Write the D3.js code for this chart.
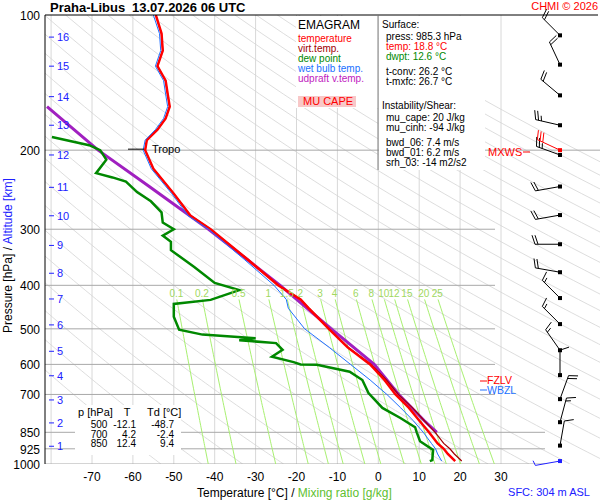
<!DOCTYPE html>
<html><head><meta charset="utf-8">
<script src="https://cdn.jsdelivr.net/npm/d3@7"></script>
<style>body{margin:0;background:#fff}text{font-family:"Liberation Sans",Arial,sans-serif}</style>
</head><body><svg id="c" width="600" height="500"></svg>
<script>
// temperature profile
var tP  = [985,950,925,900,850,800,750,700,650,600,550,500,450,430,400,350,300,280,250,220,200,190,180,170,160,150,140,130,120,110,100];
var tT  = [18.8,17,16,14.5,12.4,10,7.5,4.2,1.5,-2,-7.5,-12.1,-17,-19,-24.5,-32,-41,-45.9,-50,-55,-57,-56.6,-54,-52,-51,-51.5,-52,-54,-52.7,-53,-54.4];
var tVirt = [20.4,18.6,17.5,16,13.9,11.2,8.4,4.9,2,-1.7,-7.3,-12,-16.9,-18.9,-24.4,-32,-41,-45.9,-50,-55,-57,-56.6,-54,-52,-51,-51.5,-52,-54,-52.7,-53,-54.4];
var tWet = [15.5,14.5,14,13,11,8.5,5.5,2.1,-2,-6.8,-12,-18,-22,-22.5,-25.5,-32.8,-41.5,-46.5,-50.5,-55.5,-57.5,-57,-54.5,-52.5,-51.5,-52,-52.5,-54.5,-53.2,-53.5,-55];
// dew point
var dP  = [985,980,930,890,850,828,790,750,695,650,623,601,600,593,577,557,538,530,525,515,502,470,440,431,410,395,364,334,320,310,300,290,275,260,248,235,230,225,210,200,195,187];
var dT  = [12.6,13.2,13.4,10.2,9.4,9,5.4,1,-2.4,-3.9,-7,-15,-19,-20.7,-26,-23.4,-25,-34,-30,-43,-48.7,-50,-50,-41,-34,-40,-45,-50.7,-50.7,-52.7,-50,-52.7,-53,-55.6,-59,-61.7,-65,-69,-66.5,-68,-70.7,-79.8];
// updraft virtual temperature
var uP  = [850,800,700,600,500,400,300,241,200,160];
var uT  = [14.3,11.2,5,-1,-11.5,-24,-41.5,-56,-68.5,-81];
// winds
var wP   = [111,129,151,176,205,241,279,324,374,427,488,558,634,717,807,910,985];
var wDir = [315,335,310,283,290,260,260,270,280,315,315,325,0,20,15,10,260];
var wSpd = [20,20,20,25,25,20,20,20,20,15,15,15,10,20,15,10,5];
var mxP = 200, mxDir = 295, mxSpd = 30;
// axes
var pTicks = [100,200,300,400,500,600,700,850,925,1000];
var tTicks = [-70,-60,-50,-40,-30,-20,-10,0,10,20,30];
var altKm = [1,2,3,4,5,6,7,8,9,10,11,12,13,14,15,16];
var altP  = [913,810,720,636,561,490,429,376,326,280,242,205,176,152,130,112];
var mixW = [0.1,0.2,0.5,1,1.5,2,3,4,6,8,10,12,15,20,25];
var thetas = d3.range(220, 520, 10);

var svg = d3.select('#c');
var x = d3.scaleLinear().domain([-70,30]).range([92,501]);
var y = d3.scaleLog().domain([100,1000]).range([15,464]);
var L = 45, R = 600, B = 464;

svg.append('clipPath').attr('id','pc').append('rect').attr('x',L).attr('y',15).attr('width',R-L).attr('height',B-15);
var g = svg.append('g').attr('clip-path','url(#pc)');

// isotherms
g.selectAll('.vt').data(d3.range(-80,31,10)).enter().append('line')
	.attr('x1',x).attr('x2',x).attr('y1',15).attr('y2',B).attr('stroke','#d8d8d8');
// dry adiabats
var pl = d3.range(100,1001,10);
thetas.forEach(function(th){
	g.append('path').attr('fill','none').attr('stroke','#d4d4d4').attr('stroke-width',0.8)
		.attr('d', d3.line().x(function(p){return x(th*Math.pow(p/1000,0.286)-273.15);}).y(y)(pl));
});
// isobars
var isoR = {200:600,300:495,400:495,500:495,600:495,700:495,850:545,925:545,1000:545};
pTicks.forEach(function(p){
	if(p==100) return;
	g.append('line').attr('x1',L).attr('x2',isoR[p]).attr('y1',y(p)).attr('y2',y(p)).attr('stroke','#a8a8a8');
});
// mixing ratio lines
function tdOf(w,p){ var e=w*p/(622+w), l=Math.log(e/6.112); return 243.5*l/(17.67-l); }
var mp = d3.range(430,1001,10);
mixW.forEach(function(w){
	g.append('path').attr('fill','none').attr('stroke','#a8f070').attr('stroke-width',1)
		.attr('d', d3.line().x(function(p){return x(tdOf(w,p));}).y(y)(mp));
	svg.append('text').attr('x',x(tdOf(w,425))).attr('y',y(425)).attr('text-anchor','middle')
		.attr('font-size',10).attr('fill','#a0d860').text(w);
});

function prof(P,T,col,wd){
	g.append('path').attr('fill','none').attr('stroke',col).attr('stroke-width',wd)
		.attr('d', d3.line().x(function(d,i){return x(T[i]);}).y(function(d){return y(d);})(P));
}
prof(uP,uT,'#a020c0',3);
prof(tP,tVirt,'#a00000',1.2);
prof(tP,tT,'#ff0000',2.5);
prof(tP,tWet,'#2070ff',1);
prof(dP,dT,'#008800',2.5);

// tropopause
svg.append('line').attr('x1',128).attr('x2',144).attr('y1',y(200)-1).attr('y2',y(200)-1).attr('stroke','#000');
svg.append('text').attr('x',152).attr('y',y(200)+3).attr('font-size',11).text('Tropo');

// frame
svg.append('line').attr('x1',L).attr('x2',598).attr('y1',15).attr('y2',15).attr('stroke','#000');
svg.append('line').attr('x1',L).attr('x2',L).attr('y1',15).attr('y2',B).attr('stroke','#000');

// pressure labels
svg.selectAll('.pl').data(pTicks).enter().append('text').attr('x',40).attr('y',function(d){return y(d)+5;})
	.attr('text-anchor','end').attr('font-size',12).text(function(d){return d;});
// altitude
altKm.forEach(function(k,i){
	svg.append('line').attr('x1',49).attr('x2',54).attr('y1',y(altP[i])).attr('y2',y(altP[i])).attr('stroke','#2020ff');
	svg.append('text').attr('x',57).attr('y',y(altP[i])+4).attr('font-size',11).attr('fill','#2020ff').text(k);
});
// temp labels
svg.selectAll('.tl').data(tTicks).enter().append('text').attr('x',x).attr('y',481)
	.attr('text-anchor','middle').attr('font-size',12).text(function(d){return d;});

var t = svg.append('text').attr('y',497).attr('x',197).attr('font-size',12);
t.append('tspan').text('Temperature [°C]  /  ');
t.append('tspan').attr('fill','#60c030').text('Mixing ratio [g/kg]');
var yl = svg.append('text').attr('transform','translate(12,'+333+') rotate(-90)').attr('font-size',12);
yl.append('tspan').text('Pressure [hPa]  /  ');
yl.append('tspan').attr('fill','#2020ff').text('Altitude [km]');

svg.append('text').attr('x',50).attr('y',12).attr('font-size',13).attr('font-weight','bold').text('Praha-Libus');
svg.append('text').attr('x',132).attr('y',12).attr('font-size',13).attr('font-weight','bold').text('13.07.2026 06 UTC');
svg.append('text').attr('x',598).attr('y',10).attr('text-anchor','end').attr('font-size',11).attr('fill','#ff0000').text('CHMI © 2026');
svg.append('text').attr('x',590).attr('y',496).attr('text-anchor','end').attr('font-size',11).attr('fill','#2020ff').text('SFC: 304 m ASL');

// legend box
svg.append('rect').attr('x',296).attr('y',16).attr('width',82).attr('height',92).attr('fill','#fff');
svg.append('rect').attr('x',379).attr('y',16).attr('width',106).attr('height',154).attr('fill','#fff');
svg.append('line').attr('x1',378).attr('x2',378).attr('y1',15).attr('y2',170).attr('stroke','#808080');
var leg = [['EMAGRAM','#000',12],['temperature','#ff0000',10],['virt.temp.','#a00000',10],['dew point','#008800',10],['wet bulb temp.','#2070ff',10],['udpraft v.temp.','#c020c0',10]];
leg.forEach(function(d,i){
	svg.append('text').attr('x',298).attr('y',i==0?29:32+i*10).attr('font-size',d[2]).attr('fill',d[1]).text(d[0]);
});
svg.append('rect').attr('x',298).attr('y',96).attr('width',58).attr('height',11).attr('fill','#f8c8c8');
svg.append('text').attr('x',303).attr('y',105).attr('font-size',11).attr('fill','#ff0000').text('MU CAPE');
var info = [['Surface:',28,382,'#000'],['press: 985.3 hPa',40,386,'#000'],['temp: 18.8 °C',50,386,'#ff0000'],['dwpt: 12.6 °C',60,386,'#008800'],
	['t-conv: 26.2 °C',75,386,'#000'],['t-mxfc: 26.7 °C',85,386,'#000'],['Instability/Shear:',109,382,'#000'],
	['mu_cape: 20 J/kg',121,386,'#000'],['mu_cinh: -94 J/kg',131,386,'#000'],['bwd_06: 7.4 m/s',146,386,'#000'],
	['bwd_01: 6.2 m/s',156,386,'#000'],['srh_03: -14 m2/s2',166,386,'#000']];
info.forEach(function(d){ svg.append('text').attr('x',d[2]).attr('y',d[1]).attr('font-size',10).attr('fill',d[3]).text(d[0]); });

// bottom-left table
svg.append('rect').attr('x',75).attr('y',405).attr('width',106).attr('height',50).attr('fill','#fff');
var tab = [['p [hPa]','T','Td [°C]'],['500','-12.1','-48.7'],['700','4.2','-2.4'],['850','12.4','9.4']];
tab.forEach(function(r,i){
	var yy = i==0?416:428+(i-1)*9.5, fs = i==0?11:10;
	svg.append('text').attr('x',i==0?78:99).attr('y',yy).attr('font-size',fs).attr('text-anchor',i==0?'start':'middle').text(r[0]);
	svg.append('text').attr('x',i==0?127:136).attr('y',yy).attr('font-size',fs).attr('text-anchor',i==0?'middle':'end').text(r[1]);
	svg.append('text').attr('x',i==0?147:174).attr('y',yy).attr('font-size',fs).attr('text-anchor',i==0?'start':'end').text(r[2]);
});

// FZLV / WBZL / MXWS
svg.append('line').attr('x1',480).attr('x2',487).attr('y1',381).attr('y2',381).attr('stroke','#ff0000');
svg.append('text').attr('x',487).attr('y',384).attr('font-size',10.5).attr('fill','#ff0000').text('FZLV');
svg.append('line').attr('x1',480).attr('x2',487).attr('y1',390).attr('y2',390).attr('stroke','#2070ff');
svg.append('text').attr('x',487).attr('y',394).attr('font-size',10.5).attr('fill','#2070ff').text('WBZL');
svg.append('text').attr('x',488).attr('y',156).attr('font-size',11).attr('fill','#ff0000').text('MXWS');
svg.append('line').attr('x1',523).attr('x2',530).attr('y1',152).attr('y2',152).attr('stroke','#ff0000');

// wind barbs
function barb(p,dir,spd,col){
	var cx = 560, cy = y(p), a = dir*Math.PI/180, Ls = 25;
	var ux = Math.sin(a), uy = -Math.cos(a), px = -uy, py = ux;
	var ex = cx+ux*Ls, ey = cy+uy*Ls;
	var bg = svg.append('g').attr('stroke',col).attr('fill','none');
	bg.append('line').attr('x1',cx).attr('y1',cy).attr('x2',ex).attr('y2',ey);
	bg.append('rect').attr('x',cx-2).attr('y',cy-2).attr('width',4).attr('height',4).attr('fill',col).attr('stroke','none');
	var n = Math.floor(spd/10), h = (spd%10)>=5, k = 0;
	for(var i=0;i<n;i++,k++){
		var bx = ex-ux*k*3, by = ey-uy*k*3;
		bg.append('line').attr('x1',bx).attr('y1',by).attr('x2',bx+px*9+ux*3).attr('y2',by+py*9+uy*3);
	}
	if(h){ var bx2 = ex-ux*k*3, by2 = ey-uy*k*3;
		bg.append('line').attr('x1',bx2).attr('y1',by2).attr('x2',bx2+px*5+ux*1.5).attr('y2',by2+py*5+uy*1.5); }
}
wP.forEach(function(p,i){ barb(p,wDir[i],wSpd[i], i==wP.length-1?'#2020ff':'#000'); });
barb(mxP,mxDir,mxSpd,'#ff0000');
</script></body></html>
